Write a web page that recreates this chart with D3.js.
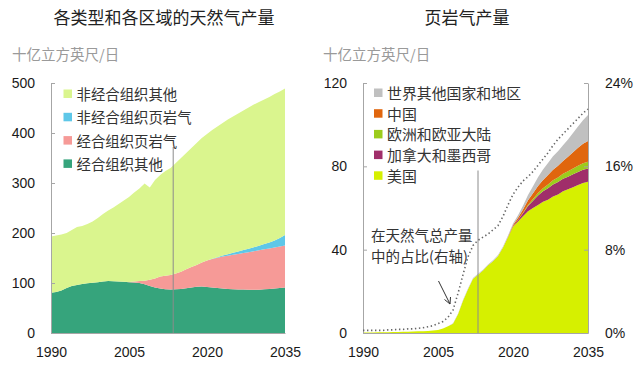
<!DOCTYPE html>
<html>
<head>
<meta charset="utf-8">
<script src="https://cdn.jsdelivr.net/npm/d3@7"></script>
<style>
  body { margin: 0; background: #fff; }
  text { font-family: "Liberation Sans", Arial, sans-serif; }
  .cjk { font-family: "Noto Sans CJK SC", sans-serif; }
</style>
</head>
<body>
<script>
// years 1990..2035
const years = d3.range(1990, 2036);

// left chart: gas production by type and region (bcf/d)
const oecdOther = [80.7, 82, 85, 90, 94, 96, 98, 99.5, 100.5, 101.5, 103, 104, 103.5, 103, 102.5, 101.5,
  101, 100, 97.5, 94, 91, 89, 87.5, 87, 87.5, 88, 89.5, 91, 92.5, 93, 92, 91, 90, 89, 88, 87.5,
  87, 87, 86.7, 86.5, 86.7, 87.3, 88, 89, 90, 91];
const oecdShale = [0, 0, 0, 0, 0, 0, 0, 0, 0, 0, 0, 0, 0, 0, 0, 0.5,
  2, 4, 7, 12.5, 18, 24, 27, 29, 31.5, 34.5, 38, 41, 43.5, 48, 53, 57, 60.5, 64, 66.5, 69,
  71, 73, 75, 77, 79, 80, 81, 82, 83, 84];
const nonOecdShale = [0, 0, 0, 0, 0, 0, 0, 0, 0, 0, 0, 0, 0, 0, 0, 0,
  0, 0, 0, 0, 0, 0, 0, 0, 0, 0, 0, 0, 0, 0, 0, 0.5, 1, 2, 3, 4,
  5, 6, 7, 8, 9, 10.5, 12, 14, 17, 21];
const nonOecdOther = [112.3, 113, 112, 110, 112, 116, 116, 118.5, 122.5, 128.5, 135, 141, 147.5, 155, 162.5, 170,
  178, 185, 194.5, 184.5, 197, 203, 209.5, 214, 221, 227.5, 232.5, 238, 244, 249, 253, 257.5, 261.5, 265, 269.5, 272.5,
  276, 279, 282.3, 285.5, 287.3, 289.2, 291, 293, 293, 293];

// right chart: shale gas production (bcf/d)
const usShale = [0.3, 0.3, 0.3, 0.4, 0.4, 0.4, 0.5, 0.5, 0.6, 0.6, 0.7, 0.8, 0.9, 1.0, 1.2, 1.4,
  2.2, 3.3, 4.5, 9, 15.5, 21, 26, 28, 30, 32.5, 34.5, 37, 41, 46, 51, 53.5, 56, 58.5, 60, 61.5,
  63, 64, 65.5, 66.5, 68, 69, 70, 71, 72, 72.6];
const canMexShale = [0, 0, 0, 0, 0, 0, 0, 0, 0, 0, 0, 0, 0, 0, 0, 0,
  0, 0, 0, 0, 0, 0, 0, 0, 0, 0, 0, 0, 0, 0, 0.3, 0.8, 1.5, 2.5, 3.5, 4.5,
  5, 5.5, 5.8, 6, 6, 6, 6.2, 6.3, 6.4, 6.4];
const eurShale = [0, 0, 0, 0, 0, 0, 0, 0, 0, 0, 0, 0, 0, 0, 0, 0,
  0, 0, 0, 0, 0, 0, 0, 0, 0, 0, 0, 0, 0, 0, 0, 0, 0.2, 0.5, 0.8, 1.2,
  1.5, 1.8, 2, 2.2, 2.4, 2.6, 2.8, 3, 3.1, 3.2];
const chinaShale = [0, 0, 0, 0, 0, 0, 0, 0, 0, 0, 0, 0, 0, 0, 0, 0,
  0, 0, 0, 0, 0, 0, 0, 0, 0, 0, 0, 0, 0, 0.2, 0.5, 1, 1.6, 2.2, 2.8, 3.4,
  4, 4.5, 5.1, 5.6, 6.2, 7, 7.8, 8.6, 9.3, 10];
const rowShale = [0, 0, 0, 0, 0, 0, 0, 0, 0, 0, 0, 0, 0, 0, 0, 0,
  0, 0, 0.2, 0.3, 0.4, 0.4, 0.4, 0.4, 0.4, 0.4, 0.4, 0.5, 0.5, 0.6, 0.8, 1.2, 1.8, 2.5, 3.3, 4.2,
  5, 5.8, 6.5, 7, 7.5, 8.3, 9.2, 10.2, 11.3, 12.4];
// shale share of total gas production, % (right axis)
const shaleShare = [0.25, 0.25, 0.25, 0.25, 0.25, 0.3, 0.3, 0.35, 0.35, 0.4, 0.4, 0.45, 0.5, 0.6, 0.7, 0.9,
  1.1, 1.5, 2.2, 3.8, 5.6, 7.3, 8.4, 8.9, 9.2, 9.5, 9.9, 10.3, 11.2, 12.3, 13.3, 14.0, 14.6, 15.0, 15.5, 16.1,
  16.7, 17.3, 18.0, 18.6, 19.1, 19.6, 20.1, 20.6, 21.1, 21.5];

// ticks and labels
const yearTicks = [1990, 2005, 2020, 2035];
const leftTicks = [0, 100, 200, 300, 400, 500];
const rightTicks = [0, 40, 80, 120];
const pctTicks = [0, 8, 16, 24];

const leftKeys = ["经合组织其他", "经合组织页岩气", "非经合组织页岩气", "非经合组织其他"];
const leftColors = ["#36a47c", "#f69a97", "#5ec7e8", "#daf58e"];
const rightKeys = ["美国", "加拿大和墨西哥", "欧洲和欧亚大陆", "中国", "世界其他国家和地区"];
const rightColors = ["#d6f000", "#a02e6a", "#9ccc1c", "#e0660e", "#c0c0c0"];
const noteLines = ["在天然气总产量", "中的占比(右轴)"];

const leftRows = years.map((y, i) => ({
  year: y, "经合组织其他": oecdOther[i], "经合组织页岩气": oecdShale[i],
  "非经合组织页岩气": nonOecdShale[i], "非经合组织其他": nonOecdOther[i]
}));
const rightRows = years.map((y, i) => ({
  year: y, "美国": usShale[i], "加拿大和墨西哥": canMexShale[i], "欧洲和欧亚大陆": eurShale[i],
  "中国": chinaShale[i], "世界其他国家和地区": rowShale[i]
}));

const svg = d3.select("body").append("svg").attr("width", 640).attr("height", 370);

const axisGray = "#a6a6a6";

function styleAxis(g) {
  g.select(".domain").attr("stroke", axisGray);
  g.selectAll(".tick line").attr("stroke", axisGray);
  g.selectAll(".tick text").attr("fill", "#1a1a1a").style("font-size", "14px")
    .style("font-family", "'Liberation Sans', Arial, sans-serif");
}

function panel(opts) {
  let x = d3.scaleLinear().domain([1990, 2035]).range(opts.xRange);
  let y = d3.scaleLinear().domain([0, opts.yMax]).range([333, 83]);

  let series = d3.stack().keys(opts.keys)(opts.rows);
  let area = d3.area()
    .x(d => x(d.data.year))
    .y0(d => y(d[0]))
    .y1(d => y(d[1]));

  let g = svg.append("g");
  g.selectAll("path.layer")
    .data(series)
    .enter()
    .append("path")
    .attr("class", "layer")
    .attr("fill", (d, i) => opts.colors[i])
    .attr("d", area);

  // history / projection divider
  g.append("line")
    .attr("x1", x(opts.divider)).attr("x2", x(opts.divider))
    .attr("y1", y(opts.dividerTop)).attr("y2", y(0))
    .attr("stroke", "#8c8c8c").attr("stroke-width", 1);

  g.append("g")
    .attr("transform", "translate(0,333)")
    .call(d3.axisBottom(x).tickValues(yearTicks).tickFormat(d3.format("d")).tickSize(0).tickPadding(14))
    .call(styleAxis);

  g.append("g")
    .attr("transform", "translate(" + opts.xRange[0] + ",0)")
    .call(d3.axisLeft(y).tickValues(opts.ticks).tickSize(-4).tickSizeOuter(0).tickPadding(16))
    .call(styleAxis);

  // title and unit
  svg.append("text").attr("class", "cjk")
    .attr("x", opts.titleX).attr("y", 16)
    .attr("text-anchor", "middle").attr("dominant-baseline", "central")
    .attr("fill", "#222").style("font-size", "17px")
    .text(opts.title);
  svg.append("text").attr("class", "cjk")
    .attr("x", opts.unitX).attr("y", 53)
    .attr("dominant-baseline", "central")
    .attr("fill", "#9a9a9a").style("font-size", "14.5px")
    .text("十亿立方英尺/日");

  // legend (top to bottom = reverse of stack)
  let legend = svg.append("g");
  let items = opts.keys.map((k, i) => ({ k: k, c: opts.colors[i] })).reverse();
  items.forEach((d, i) => {
    let cy = opts.legendY + i * opts.legendStep;
    legend.append("rect")
      .attr("x", opts.legendX).attr("y", cy - 4).attr("width", 8.5).attr("height", 8.5)
      .attr("fill", d.c);
    legend.append("text").attr("class", "cjk")
      .attr("x", opts.legendX + 13).attr("y", cy)
      .attr("dominant-baseline", "central")
      .attr("fill", "#333").style("font-size", opts.legendSize + "px")
      .text(d.k);
  });

  return { x: x, y: y, g: g };
}

panel({
  xRange: [51, 285], yMax: 500, ticks: leftTicks,
  keys: leftKeys, colors: leftColors, rows: leftRows,
  divider: 2013.5, dividerTop: 372,
  title: "各类型和各区域的天然气产量", titleX: 164, unitX: 12,
  legendX: 63.5, legendY: 93.5, legendStep: 23.3, legendSize: 14.4
});

let right = panel({
  xRange: [363, 588], yMax: 120, ticks: rightTicks,
  keys: rightKeys, colors: rightColors, rows: rightRows,
  divider: 2013, dividerTop: 78,
  title: "页岩气产量", titleX: 467, unitX: 323,
  legendX: 374, legendY: 92.5, legendStep: 20.7, legendSize: 14.9
});

// right axis: shale share in %
let pct = d3.scaleLinear().domain([0, 24]).range([333, 83]);
right.g.append("g")
  .attr("transform", "translate(588,0)")
  .call(d3.axisRight(pct).tickValues(pctTicks).tickSize(-4).tickSizeOuter(0).tickPadding(17)
    .tickFormat(d => d + "%"))
  .call(styleAxis);

let shareLine = d3.line()
  .x((d, i) => right.x(years[i]))
  .y(d => pct(d));

right.g.append("path")
  .attr("d", shareLine(shaleShare))
  .attr("fill", "none")
  .attr("stroke", "#666")
  .attr("stroke-width", 1.6)
  .attr("stroke-dasharray", "1.4,2.6");

// annotation, one text per line
noteLines.forEach((t, i) => {
  svg.append("text").attr("class", "cjk")
    .attr("x", 371).attr("y", 234.5 + i * 21)
    .attr("dominant-baseline", "central")
    .attr("fill", "#333").style("font-size", "14.5px")
    .text(t);
});

svg.append("line")
  .attr("x1", 438.5).attr("y1", 281).attr("x2", 450).attr("y2", 304)
  .attr("stroke", "#333").attr("stroke-width", 1);
svg.append("path")
  .attr("d", "M444.5,299.5 L450,304 L450.5,297")
  .attr("fill", "none").attr("stroke", "#333").attr("stroke-width", 1);
</script>
</body>
</html>
